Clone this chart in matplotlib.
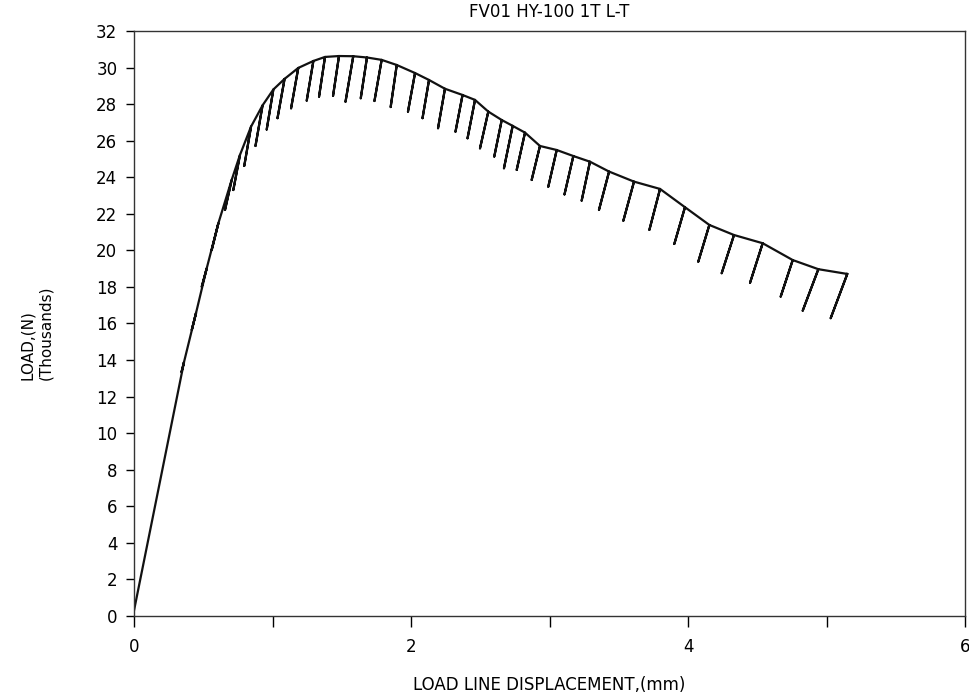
import numpy as np
import matplotlib
matplotlib.use("Agg")
import matplotlib.pyplot as plt

plt.rcParams['font.family'] = ['Liberation Sans Narrow', 'DejaVu Sans']

# start of the loading line
start_x = 0.0
start_y = 0.3

# unloading points: where each unload starts (top) and ends (bottom), load in thousands of N
top_x = [0.361, 0.448, 0.525, 0.609, 0.705, 0.765, 0.845, 0.928, 1.006, 1.087,
         1.186, 1.295, 1.379, 1.480, 1.583, 1.682, 1.788, 1.897, 2.029, 2.130,
         2.245, 2.372, 2.462, 2.558, 2.655, 2.734, 2.823, 2.931, 3.052, 3.172,
         3.292, 3.430, 3.610, 3.798, 3.978, 4.154, 4.332, 4.539, 4.756, 4.941, 5.150]
top_y = [13.89, 16.58, 19.02, 21.48, 23.85, 25.22, 26.77, 27.93, 28.80, 29.38,
         29.98, 30.36, 30.58, 30.63, 30.62, 30.55, 30.42, 30.14, 29.70, 29.32,
         28.84, 28.50, 28.23, 27.59, 27.13, 26.81, 26.44, 25.71, 25.49, 25.16,
         24.85, 24.31, 23.76, 23.36, 22.36, 21.39, 20.84, 20.39, 19.47, 18.97, 18.71]
bot_x = [0.343, 0.417, 0.489, 0.561, 0.657, 0.717, 0.796, 0.877, 0.958, 1.036,
         1.134, 1.247, 1.336, 1.437, 1.527, 1.637, 1.736, 1.853, 1.978, 2.083,
         2.195, 2.321, 2.408, 2.498, 2.601, 2.671, 2.763, 2.871, 2.991, 3.108,
         3.232, 3.357, 3.533, 3.721, 3.901, 4.074, 4.243, 4.448, 4.669, 4.828, 5.030]
bot_y = [13.35, 15.65, 18.01, 20.02, 22.21, 23.30, 24.62, 25.71, 26.61, 27.23,
         27.77, 28.19, 28.41, 28.45, 28.13, 28.32, 28.17, 27.84, 27.59, 27.23,
         26.68, 26.49, 26.13, 25.58, 25.13, 24.49, 24.40, 23.85, 23.48, 23.06,
         22.72, 22.21, 21.62, 21.12, 20.35, 19.38, 18.75, 18.23, 17.47, 16.70, 16.29]

# one continuous pen path: load to top, unload to bottom, reload to top
xs = [start_x]
ys = [start_y]
for tx, ty, bx, by in zip(top_x, top_y, bot_x, bot_y):
    xs += [tx, bx, tx]
    ys += [ty, by, ty]

fig = plt.figure(figsize=(9.69, 6.98), dpi=100)
ax = fig.add_axes([0.1383, 0.1175, 0.8576, 0.8381])
ax.plot(xs, ys, color='#111111', linewidth=1.6, solid_joinstyle='round')

ax.set_xlim(0, 6)
ax.set_ylim(0, 32)
ax.set_xticks(np.arange(0, 7, 1))
ax.set_xticklabels(['0', '', '2', '', '4', '', '6'])
ax.set_yticks(np.arange(0, 33, 2))
ax.tick_params(axis='x', direction='out', length=8, width=1, labelsize=12, pad=8)
ax.tick_params(axis='y', direction='out', length=6, width=1, labelsize=12, pad=6)
for s in ax.spines.values():
    s.set_linewidth(1.0)
    s.set_color('#333333')

ax.set_title('FV01 HY-100 1T L-T', fontsize=12, pad=10)
ax.set_xlabel('LOAD LINE DISPLACEMENT,(mm)', fontsize=12, labelpad=14)
ax.set_ylabel('LOAD,(N)\n(Thousands)', fontsize=11, family=['DejaVu Sans'],
              multialignment='left', labelpad=0, linespacing=1.3)
ax.yaxis.set_label_coords(-0.097, 0.485)

fig.savefig('out.png', dpi=100)
